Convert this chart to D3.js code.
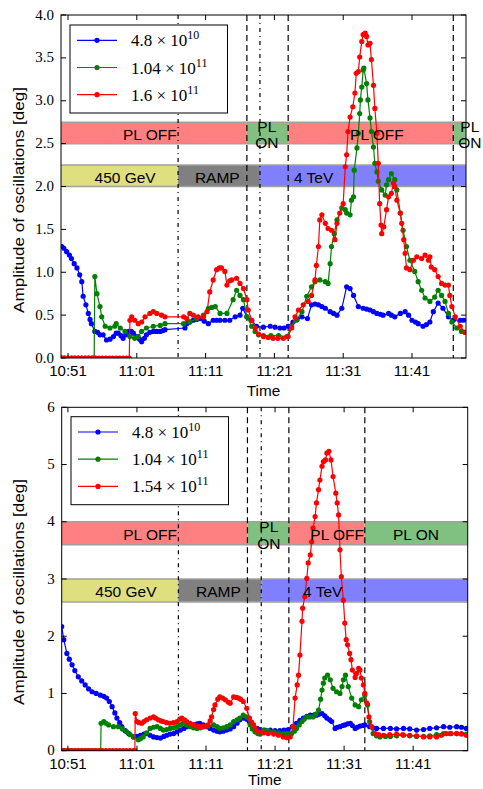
<!DOCTYPE html>
<html>
<head>
<meta charset="utf-8">
<script src="https://cdn.jsdelivr.net/npm/d3@7"></script>
<style>
  body { margin: 0; background: #fff; }
  svg { display: block; }
  .sans { font-family: "Liberation Sans", Arial, sans-serif; }
  .serif { font-family: "Liberation Serif", "Times New Roman", serif; }
</style>
</head>
<body>
<script>
// x values are minutes after 10:51
const timeTicks = [0, 10, 20, 30, 40, 50];
const timeLabels = ["10:51", "11:01", "11:11", "11:21", "11:31", "11:41"];
const seriesColors = ["#0000ff", "#008000", "#ff0000"];

const topLegend = [["4.8", "10"], ["1.04", "11"], ["1.6", "11"]];
const bottomLegend = [["4.8", "10"], ["1.04", "11"], ["1.54", "11"]];

const topYTicks = [0, 0.5, 1, 1.5, 2, 2.5, 3, 3.5, 4];
const bottomYTicks = [0, 1, 2, 3, 4, 5, 6];

// machine state bands: [from, to, label, label position, kind]
const topPL = [[-2, 26, "PL OFF", 11.9, "off"], [26, 32, "PL\nON", 28.9, "on"], [32, 56, "PL OFF", 44.9, "off"], [56, 61, "PL\nON", 58.4, "on"]];
const topEnergy = [[-2, 16, "450 GeV", 8.3, "inj"], [16, 27.9, "RAMP", 21.7, "ramp"], [27.9, 61, "4 TeV", 35.7, "flat"]];
const bottomPL = [[-2, 26, "PL OFF", 11.9, "off"], [26, 32, "PL\nON", 29.1, "on"], [32, 43, "PL OFF", 39.0, "off"], [43, 61, "PL ON", 50.4, "on"]];
const bottomEnergy = [[-2, 16, "450 GeV", 8.4, "inj"], [16, 28, "RAMP", 21.8, "ramp"], [28, 61, "4 TeV", 36.9, "flat"]];

const topMarkers = [[16, "dashdot"], [26, "dashed"], [27.9, "dashdot"], [32, "dashed"], [56, "dashed"]];
const bottomMarkers = [[16, "dashdot"], [26, "dashed"], [28, "dashdot"], [32, "dashed"], [43, "dashed"]];

const topBlue = [[-0.9,1.30],[-0.6,1.28],[-0.2,1.24],[0.2,1.20],[0.5,1.16],[0.9,1.10],[1.3,1.05],[1.7,0.97],[2.0,0.89],[2.2,0.72],[2.6,0.62],[2.95,0.52],[3.2,0.45],[3.4,0.40],[3.9,0.31],[4.3,0.30],[4.65,0.27],[5.1,0.27],[5.6,0.21],[6.1,0.22],[6.6,0.25],[7.0,0.29],[7.3,0.29],[7.7,0.26],[8.0,0.23],[8.4,0.27],[8.8,0.31],[9.2,0.31],[9.5,0.29],[10.0,0.25],[10.4,0.22],[10.7,0.19],[11.1,0.23],[11.4,0.27],[11.9,0.30],[12.4,0.31],[12.9,0.31],[13.4,0.31],[13.8,0.32],[14.1,0.33],[17.0,0.35],[17.25,0.40],[17.7,0.42],[18.2,0.44],[18.7,0.45],[19.2,0.46],[19.8,0.43],[20.4,0.40],[21.1,0.44],[21.6,0.44],[22.1,0.44],[22.8,0.44],[23.5,0.44],[24.3,0.48],[25.0,0.50],[25.4,0.58],[26.0,0.48],[26.7,0.44],[27.4,0.37],[28.4,0.36],[29.4,0.37],[30.1,0.36],[30.8,0.35],[31.4,0.35],[32.0,0.37],[32.7,0.42],[33.3,0.45],[34.0,0.48],[34.8,0.46],[35.4,0.62],[35.9,0.63],[36.4,0.62],[36.9,0.60],[37.4,0.58],[38.1,0.54],[38.6,0.52],[39.1,0.50],[39.8,0.58],[40.5,0.83],[41.0,0.81],[41.5,0.73],[42.2,0.60],[42.9,0.58],[43.4,0.57],[43.9,0.56],[44.4,0.54],[44.9,0.52],[45.4,0.51],[45.8,0.50],[46.6,0.52],[47.0,0.50],[47.5,0.48],[48.3,0.52],[49.0,0.54],[49.5,0.50],[50.0,0.44],[50.5,0.42],[50.9,0.40],[51.6,0.37],[52.1,0.39],[52.6,0.42],[53.1,0.54],[53.8,0.64],[54.5,0.58],[55.3,0.48],[56.0,0.44],[57.0,0.44],[57.5,0.44]];

const topGreen = [[-0.9,0],[-0.5,0],[0,0],[0.5,0],[1,0],[1.5,0],[2,0],[2.5,0],[3,0],[3.5,0],[3.8,0],[3.9,0.95],[4.2,0.75],[4.65,0.60],[4.9,0.48],[5.4,0.37],[6.1,0.35],[6.8,0.37],[7.0,0.40],[7.6,0.35],[8.3,0.31],[9.0,0.25],[9.7,0.23],[10.2,0.25],[10.7,0.31],[11.4,0.35],[12.4,0.37],[13.4,0.38],[14.1,0.40],[16.8,0.40],[17.7,0.42],[18.7,0.46],[19.7,0.50],[20.4,0.58],[20.9,0.59],[21.4,0.60],[22.1,0.52],[23.1,0.52],[24.0,0.68],[24.5,0.79],[25.0,0.73],[25.5,0.68],[26.0,0.48],[26.7,0.37],[27.2,0.31],[27.7,0.27],[28.4,0.26],[29.5,0.26],[30.6,0.26],[31.8,0.25],[32.5,0.37],[33.2,0.44],[34.0,0.54],[34.7,0.72],[35.4,0.83],[35.9,0.89],[36.6,0.91],[37.4,0.89],[37.8,0.87],[38.1,1.10],[38.3,1.30],[38.7,1.45],[39.1,1.61],[39.8,1.75],[40.3,1.73],[40.5,1.69],[41.0,1.67],[41.2,1.84],[41.5,1.88],[41.6,2.19],[42.0,2.45],[42.2,2.62],[42.4,2.85],[42.5,3.01],[42.7,3.16],[42.9,3.36],[43.0,3.38],[43.4,3.20],[43.6,3.01],[43.9,2.80],[44.1,2.64],[44.4,2.46],[44.6,2.27],[44.9,2.17],[45.1,2.06],[45.6,1.96],[46.1,1.90],[46.3,2.02],[46.6,2.08],[47.0,2.15],[47.5,2.08],[47.8,1.96],[48.3,1.69],[48.7,1.49],[49.2,1.30],[49.7,1.14],[50.4,1.01],[50.9,0.89],[51.4,0.79],[51.9,0.70],[52.6,0.66],[53.3,0.71],[53.8,0.79],[54.3,0.73],[54.8,0.66],[55.3,0.52],[55.8,0.42],[56.5,0.35],[57.2,0.31],[57.7,0.30]];

const topRed = [[-0.9,0],[-0.5,0],[0,0],[0.5,0],[1,0],[1.5,0],[2,0],[2.5,0],[3,0],[3.5,0],[4,0],[4.5,0],[5,0],[5.5,0],[6,0],[6.5,0],[7,0],[7.5,0],[8,0],[8.5,0],[8.9,0],[9.0,0.44],[9.25,0.48],[9.7,0.44],[10.2,0.40],[10.7,0.42],[11.2,0.48],[11.9,0.52],[12.4,0.54],[12.9,0.52],[13.6,0.50],[14.1,0.48],[16.8,0.48],[17.25,0.46],[17.7,0.52],[18.2,0.50],[18.9,0.48],[19.7,0.48],[20.2,0.54],[20.6,0.77],[21.1,0.91],[21.6,1.03],[22.0,1.05],[22.3,1.05],[22.8,1.01],[23.1,0.85],[23.5,0.90],[23.8,0.91],[24.5,0.93],[25.0,0.87],[25.5,0.81],[26.0,0.68],[26.2,0.56],[26.7,0.44],[27.2,0.35],[27.7,0.28],[28.4,0.25],[29.1,0.24],[29.8,0.23],[30.5,0.23],[31.3,0.23],[32.0,0.25],[32.5,0.35],[33.0,0.48],[33.5,0.56],[34.2,0.62],[34.9,0.66],[35.4,0.73],[35.9,0.91],[36.1,1.08],[36.4,1.30],[36.6,1.61],[36.9,1.67],[37.4,1.57],[37.8,1.51],[38.3,1.49],[38.8,1.38],[39.1,1.57],[39.5,1.69],[40.0,1.80],[40.3,2.23],[40.5,2.37],[40.7,2.64],[41.0,2.81],[41.4,2.93],[41.7,3.09],[41.9,3.32],[42.2,3.34],[42.4,3.51],[42.7,3.69],[42.9,3.77],[43.2,3.79],[43.4,3.75],[43.6,3.65],[43.9,3.67],[44.1,3.48],[44.4,3.18],[44.6,2.91],[44.9,2.62],[45.1,2.27],[45.3,1.80],[45.5,1.55],[45.6,1.45],[45.9,1.53],[46.3,1.73],[46.6,1.88],[47.0,1.92],[47.3,2.04],[47.5,2.00],[47.8,1.84],[48.3,1.69],[48.5,1.57],[48.8,1.38],[49.0,1.22],[49.2,1.05],[49.7,1.03],[50.2,1.14],[50.7,1.18],[51.4,1.16],[51.9,1.20],[52.4,1.14],[52.6,1.18],[52.8,1.06],[53.3,1.03],[53.8,0.95],[54.3,0.87],[54.8,0.85],[55.3,0.85],[55.5,0.73],[55.8,0.60],[56.3,0.48],[57.0,0.37],[57.7,0.30]];

const bottomBlue = [[-0.9,2.17],[-0.6,1.94],[-0.15,1.70],[0.2,1.60],[0.6,1.50],[1.0,1.40],[1.5,1.29],[2.0,1.22],[2.5,1.15],[3.0,1.08],[3.5,1.03],[4.1,1.00],[4.7,0.97],[5.2,0.95],[5.6,0.92],[6.0,0.86],[6.4,0.77],[6.8,0.66],[7.1,0.57],[7.5,0.49],[7.8,0.42],[8.3,0.35],[8.8,0.30],[9.5,0.24],[10.0,0.25],[10.5,0.27],[11.0,0.29],[11.4,0.30],[11.9,0.27],[12.4,0.24],[12.9,0.23],[13.4,0.22],[13.9,0.25],[14.3,0.27],[14.8,0.29],[15.3,0.30],[15.8,0.33],[16.3,0.36],[16.8,0.39],[17.2,0.42],[17.7,0.44],[18.2,0.45],[18.7,0.47],[19.1,0.48],[19.6,0.45],[20.1,0.42],[20.6,0.39],[21.1,0.36],[21.6,0.34],[22.0,0.33],[22.5,0.34],[23.0,0.36],[23.5,0.38],[24.0,0.42],[24.5,0.48],[24.9,0.54],[25.4,0.57],[25.9,0.55],[26.4,0.48],[26.9,0.42],[27.4,0.39],[27.8,0.37],[28.5,0.36],[29.3,0.36],[30.0,0.35],[30.7,0.35],[31.3,0.36],[31.9,0.37],[32.5,0.42],[33.1,0.48],[33.6,0.53],[34.1,0.57],[34.6,0.60],[35.1,0.62],[35.6,0.62],[36.0,0.62],[36.4,0.64],[36.8,0.65],[37.2,0.61],[37.5,0.57],[37.9,0.54],[38.2,0.51],[38.7,0.39],[39.0,0.41],[39.4,0.42],[39.8,0.44],[40.1,0.45],[40.5,0.47],[40.9,0.48],[41.2,0.44],[41.6,0.39],[41.9,0.41],[42.3,0.43],[42.7,0.44],[43.0,0.45],[43.7,0.42],[44.2,0.40],[44.7,0.39],[45.7,0.39],[46.7,0.39],[47.6,0.38],[48.6,0.39],[49.5,0.38],[50.5,0.36],[51.5,0.37],[52.4,0.39],[53.4,0.40],[54.4,0.42],[55.3,0.41],[56.3,0.42],[57.0,0.41],[57.7,0.39]];

const bottomGreen = [[-0.9,0],[-0.5,0],[0,0],[0.5,0],[1,0],[1.5,0],[2,0],[2.5,0],[3,0],[3.5,0],[4,0],[4.5,0],[4.75,0],[4.8,0.48],[5.2,0.51],[5.5,0.48],[5.9,0.45],[6.6,0.42],[7.3,0.42],[7.9,0.38],[8.5,0.33],[9.0,0.28],[9.5,0.24],[10.2,0.19],[10.5,0.21],[10.9,0.24],[11.4,0.31],[11.9,0.39],[12.4,0.41],[12.9,0.42],[13.4,0.39],[13.8,0.36],[14.3,0.37],[14.8,0.39],[15.3,0.40],[15.8,0.42],[16.3,0.45],[16.7,0.48],[17.2,0.45],[17.7,0.42],[18.2,0.40],[18.7,0.39],[19.2,0.40],[19.6,0.42],[20.3,0.43],[21.1,0.45],[21.6,0.42],[22.0,0.39],[22.5,0.40],[23.0,0.42],[23.5,0.45],[24.0,0.51],[24.5,0.54],[24.9,0.57],[25.4,0.62],[25.9,0.59],[26.4,0.45],[26.7,0.38],[27.1,0.33],[27.5,0.30],[27.8,0.29],[28.3,0.36],[29.0,0.35],[29.8,0.33],[30.5,0.31],[31.2,0.30],[31.8,0.30],[32.4,0.30],[32.8,0.34],[33.1,0.39],[33.5,0.45],[33.9,0.51],[34.2,0.55],[34.6,0.59],[35.0,0.59],[35.5,0.59],[35.9,0.64],[36.3,0.71],[36.6,0.90],[36.8,1.06],[37.0,1.18],[37.2,1.27],[37.6,1.32],[38.0,1.24],[38.4,1.09],[38.9,1.03],[39.4,1.00],[39.7,1.12],[39.9,1.24],[40.2,1.32],[40.6,1.12],[41.1,0.92],[41.6,0.80],[42.1,0.77],[42.5,0.89],[43.0,0.97],[43.4,0.80],[43.7,0.51],[44.2,0.30],[44.7,0.26],[45.2,0.24],[46.0,0.25],[46.7,0.25],[47.6,0.26],[48.6,0.27],[49.5,0.26],[50.5,0.25],[51.5,0.25],[52.4,0.26],[53.4,0.28],[54.4,0.30],[55.3,0.30],[56.3,0.30],[57.0,0.30],[57.7,0.29]];

const bottomRed = [[-0.9,0],[-0.5,0],[0,0],[0.5,0],[1,0],[1.5,0],[2,0],[2.5,0],[3,0],[3.5,0],[4,0],[4.5,0],[5,0],[5.5,0],[6,0],[6.5,0],[7,0],[7.5,0],[8,0],[8.5,0],[9,0],[9.5,0],[9.7,0],[9.75,0.65],[10.0,0.51],[10.3,0.49],[10.7,0.48],[11.0,0.51],[11.4,0.54],[11.9,0.57],[12.4,0.59],[12.7,0.57],[13.1,0.54],[13.5,0.52],[13.8,0.51],[14.3,0.49],[14.8,0.48],[15.3,0.49],[15.8,0.51],[16.2,0.55],[16.5,0.57],[16.9,0.54],[17.2,0.51],[17.7,0.48],[18.2,0.45],[18.7,0.43],[19.1,0.42],[19.6,0.42],[20.0,0.43],[20.3,0.45],[20.6,0.52],[20.8,0.59],[21.1,0.72],[21.3,0.80],[21.7,0.90],[22.0,0.94],[22.4,0.92],[22.8,0.89],[23.2,0.85],[23.5,0.83],[24.0,0.94],[24.4,0.93],[24.7,0.92],[25.0,0.90],[25.4,0.86],[25.9,0.74],[26.3,0.57],[26.6,0.50],[26.9,0.45],[27.2,0.39],[27.6,0.33],[28.3,0.31],[29.0,0.30],[29.8,0.29],[30.5,0.27],[31.2,0.24],[31.7,0.23],[32.2,0.24],[32.6,0.42],[32.9,0.92],[33.2,1.15],[33.4,1.32],[33.6,1.67],[33.9,2.26],[34.0,2.49],[34.3,2.69],[34.6,3.01],[34.8,3.28],[35.1,3.42],[35.3,3.65],[35.5,3.89],[35.8,4.09],[36.0,4.33],[36.3,4.56],[36.5,4.73],[36.8,4.97],[37.0,5.05],[37.3,5.08],[37.5,5.20],[37.8,5.23],[38.1,5.08],[38.4,4.79],[38.8,4.50],[39.0,4.33],[39.2,4.12],[39.4,3.51],[39.6,3.04],[39.9,2.63],[40.1,2.23],[40.3,1.94],[40.5,1.85],[40.8,1.70],[41.0,1.59],[41.2,1.41],[41.6,1.28],[41.8,1.35],[42.1,1.44],[42.3,1.41],[42.5,1.27],[42.8,1.15],[43.0,1.00],[43.3,0.83],[43.6,0.59],[44.0,0.42],[44.5,0.30],[45.0,0.28],[45.7,0.27],[46.6,0.28],[47.6,0.29],[48.5,0.28],[49.5,0.27],[50.5,0.26],[51.5,0.24],[52.4,0.24],[53.4,0.24],[54.1,0.27],[54.8,0.30],[55.5,0.30],[56.3,0.30],[57.0,0.29],[57.7,0.27]];

const bandFill = { off: "#ff8080", on: "#80c080", inj: "#dfdf80", ramp: "#808080", flat: "#8080ff" };
const dashes = { dashed: "6,4", dashdot: "4,4,1,4" };

const svg = d3.select("body").append("svg")
  .attr("width", 483)
  .attr("height", 789);

function drawPanel(p, id) {
  const x = d3.scaleLinear().domain(p.xDomain).range([p.left, p.right]);
  const y = d3.scaleLinear().domain([0, p.yMax]).range([p.bottom, p.top]);

  svg.append("clipPath").attr("id", id)
    .append("rect")
    .attr("x", p.left).attr("y", p.top)
    .attr("width", p.right - p.left).attr("height", p.bottom - p.top);

  const g = svg.append("g");
  const plot = g.append("g").attr("clip-path", `url(#${id})`);

  // state bands
  const bandRows = [[p.pl, p.plRange], [p.energy, p.energyRange]];
  bandRows.forEach(([bands, range]) => {
    plot.selectAll(null).data(bands).enter().append("rect")
      .attr("x", (d) => x(d[0]))
      .attr("width", (d) => x(d[1]) - x(d[0]))
      .attr("y", y(range[1]))
      .attr("height", y(range[0]) - y(range[1]))
      .attr("fill", (d) => bandFill[d[4]]);
    [range[0], range[1]].forEach((v) => {
      plot.append("line")
        .attr("x1", p.left).attr("x2", p.right)
        .attr("y1", y(v)).attr("y2", y(v))
        .attr("stroke", "#a0a0a0").attr("stroke-width", 1.5);
    });
  });

  // band labels (not clipped)
  bandRows.forEach(([bands, range]) => {
    const cy = (y(range[0]) + y(range[1])) / 2;
    bands.forEach((d) => {
      const lines = d[2].split("\n");
      const t = g.append("text").attr("class", "sans")
        .attr("font-size", 15.5)
        .attr("text-anchor", "middle")
        .attr("fill", "#000");
      lines.forEach((ln, i) => {
        const base = lines.length === 1 ? cy + 7 : cy - 1.2 + i * 16.6;
        t.append("tspan").attr("x", x(d[3])).attr("y", base).text(ln);
      });
    });
  });

  // vertical state-change lines
  plot.selectAll(null).data(p.markers).enter().append("line")
    .attr("x1", (d) => x(d[0])).attr("x2", (d) => x(d[0]))
    .attr("y1", p.top).attr("y2", p.bottom)
    .attr("stroke", "#000").attr("stroke-width", 1.2)
    .attr("stroke-dasharray", (d) => dashes[d[1]]);

  // data series
  const line = d3.line().x((d) => x(d[0])).y((d) => y(d[1]));
  p.series.forEach((s, i) => {
    plot.append("path").datum(s)
      .attr("d", line)
      .attr("fill", "none")
      .attr("stroke", seriesColors[i])
      .attr("stroke-width", 1.2);
    plot.selectAll(null).data(s).enter().append("circle")
      .attr("cx", (d) => x(d[0]))
      .attr("cy", (d) => y(d[1]))
      .attr("r", 2.6)
      .attr("fill", seriesColors[i]);
  });

  // axes frame
  g.append("rect")
    .attr("x", p.left).attr("y", p.top)
    .attr("width", p.right - p.left).attr("height", p.bottom - p.top)
    .attr("fill", "none").attr("stroke", "#000").attr("stroke-width", 1);

  // ticks (inward, all four sides)
  const tl = 5;
  timeTicks.forEach((t, i) => {
    const px = x(t);
    g.append("line").attr("x1", px).attr("x2", px).attr("y1", p.bottom).attr("y2", p.bottom - tl).attr("stroke", "#000");
    g.append("line").attr("x1", px).attr("x2", px).attr("y1", p.top).attr("y2", p.top + tl).attr("stroke", "#000");
    g.append("text").attr("class", "sans").attr("font-size", 15)
      .attr("x", px).attr("y", p.bottom + 18)
      .attr("text-anchor", "middle").text(timeLabels[i]);
  });
  p.yTicks.forEach((v) => {
    const py = y(v);
    g.append("line").attr("x1", p.left).attr("x2", p.left + tl).attr("y1", py).attr("y2", py).attr("stroke", "#000");
    g.append("line").attr("x1", p.right).attr("x2", p.right - tl).attr("y1", py).attr("y2", py).attr("stroke", "#000");
    g.append("text").attr("class", "serif").attr("font-size", 15)
      .attr("x", p.left - 7).attr("y", py + 4.5)
      .attr("text-anchor", "end").text(p.yFormat(v));
  });

  // axis titles
  g.append("text").attr("class", "sans").attr("font-size", 15.3)
    .attr("x", (p.left + p.right) / 2).attr("y", Math.min(p.bottom + 38, 785))
    .attr("text-anchor", "middle").text("Time");
  g.append("text").attr("class", "sans").attr("font-size", 15.3)
    .attr("transform", `translate(24,${p.yLabelY}) rotate(-90)`)
    .attr("text-anchor", "middle")
    .attr("textLength", 226).attr("lengthAdjust", "spacingAndGlyphs")
    .text("Amplitude of oscillations [deg]");

  // legend
  const lg = g.append("g").attr("transform", `translate(${p.legend[0]},${p.legend[1]})`);
  lg.append("rect").attr("width", 157.5).attr("height", 88)
    .attr("fill", "#fff").attr("stroke", "#000").attr("stroke-width", 1);
  p.legendLabels.forEach((lab, i) => {
    const ly = 15.3 + i * 27.2;
    lg.append("line").attr("x1", 7).attr("x2", 47).attr("y1", ly).attr("y2", ly)
      .attr("stroke", seriesColors[i]).attr("stroke-width", 1.2);
    lg.append("circle").attr("cx", 27).attr("cy", ly).attr("r", 2.6).attr("fill", seriesColors[i]);
    const t = lg.append("text").attr("class", "serif").attr("font-size", 17)
      .attr("x", 61).attr("y", ly + 6);
    t.append("tspan").text(`${lab[0]} \u00d7 10`);
    t.append("tspan").attr("font-size", 12).attr("dy", -7).text(lab[1]);
  });
}

drawPanel({
  left: 61, right: 466, top: 15, bottom: 358,
  xDomain: [-1.02, 57.85], yMax: 4,
  yTicks: topYTicks, yFormat: d3.format(".1f"),
  pl: topPL, plRange: [2.5, 2.75],
  energy: topEnergy, energyRange: [2.0, 2.25],
  markers: topMarkers,
  series: [topBlue, topGreen, topRed],
  legend: [70, 25], legendLabels: topLegend,
  yLabelY: 200
}, "clipTop");

drawPanel({
  left: 61.7, right: 467.7, top: 407.3, bottom: 750.7,
  xDomain: [-0.9, 57.9], yMax: 6,
  yTicks: bottomYTicks, yFormat: d3.format("d"),
  pl: bottomPL, plRange: [3.6, 4.0],
  energy: bottomEnergy, energyRange: [2.6, 3.0],
  markers: bottomMarkers,
  series: [bottomBlue, bottomGreen, bottomRed],
  legend: [71, 416.7], legendLabels: bottomLegend,
  yLabelY: 592
}, "clipBottom");
</script>
</body>
</html>
